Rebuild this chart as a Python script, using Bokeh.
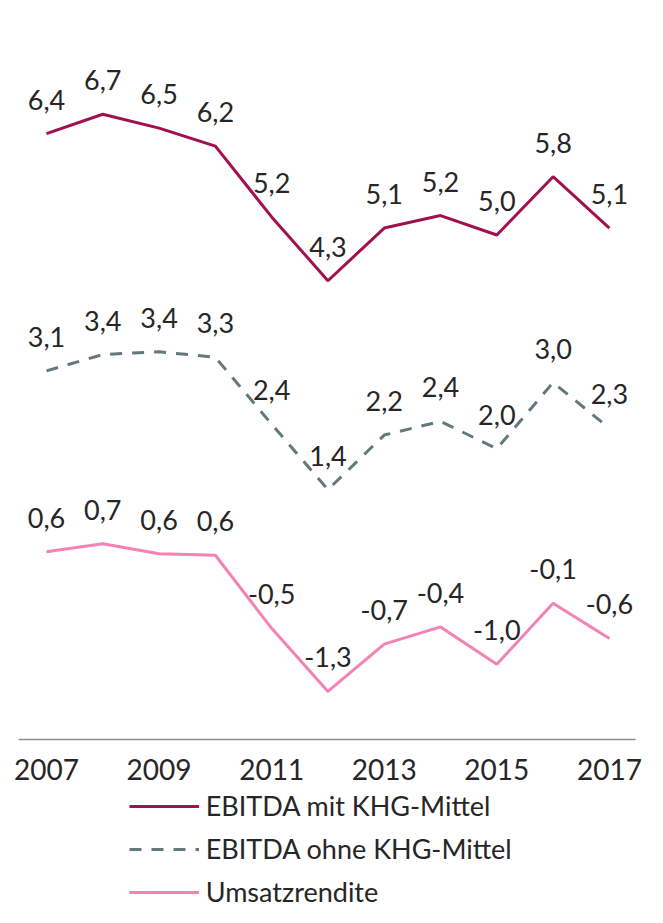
from bokeh.plotting import figure
from bokeh.models import Range1d, LinearAxis, FixedTicker, Legend, LegendItem, ColumnDataSource
from bokeh.core.properties import value
from bokeh.embed import file_html
from bokeh.resources import INLINE

# ---- data ----
years = [2007, 2008, 2009, 2010, 2011, 2012, 2013, 2014, 2015, 2016, 2017]
tick_years = [2007, 2009, 2011, 2013, 2015, 2017]
ebitda_mit = [6.42, 6.70, 6.50, 6.24, 5.22, 4.30, 5.06, 5.24, 4.96, 5.80, 5.06]
ebitda_ohne = [3.14, 3.38, 3.42, 3.34, 2.36, 1.40, 2.20, 2.40, 2.00, 2.97, 2.30]
umsatzrendite = [0.61, 0.72, 0.58, 0.56, -0.46, -1.34, -0.68, -0.44, -0.96, -0.11, -0.60]
series_names = ["EBITDA mit KHG-Mittel", "EBITDA ohne KHG-Mittel", "Umsatzrendite"]


def fmt(v):
    return f"{v:.1f}".replace(".", ",")


FONT = "Lato"
TXT = "#262626"
C_MIT = "#A1104F"
C_OHNE = "#65787A"
C_UMS = "#F482B4"

p = figure(width=647, height=907,
           x_range=Range1d(2006.183, 2017.677),
           y_range=Range1d(-4.7305, 8.3386),
           output_backend="svg", toolbar_location=None,
           x_axis_location=None, y_axis_location=None,
           min_border=0, min_border_left=0, min_border_right=0,
           min_border_top=0, min_border_bottom=0)
p.outline_line_color = None
p.background_fill_color = "white"
p.border_fill_color = "white"
p.grid.grid_line_color = None
p.grid.visible = False
p.extra_y_ranges = {"ohne": Range1d(-4.722, 8.567),
                    "ums": Range1d(-4.353, 8.297)}

r1 = p.line(years, ebitda_mit, line_color=C_MIT, line_width=3)
r2 = p.line(years, ebitda_ohne, line_color=C_OHNE, line_width=3,
            line_dash="12 10", y_range_name="ohne")
r3 = p.line(years, umsatzrendite, line_color=C_UMS, line_width=3,
            y_range_name="ums")

for vals, rname in [(ebitda_mit, "default"), (ebitda_ohne, "ohne"), (umsatzrendite, "ums")]:
    src = ColumnDataSource(dict(x=years, y=vals, t=[fmt(v) for v in vals]))
    p.text(x="x", y="y", text="t", source=src, y_range_name=rname,
           text_align="center", text_baseline="alphabetic", y_offset=-34,
           text_font=value(FONT), text_font_size="27px", text_color=TXT)

xaxis = LinearAxis(ticker=FixedTicker(ticks=tick_years),
                   fixed_location=-2.3055,
                   bounds=(2006.5, 2017.46))
xaxis.axis_line_color = "#8c8c8c"
xaxis.axis_line_width = 1.3
xaxis.major_tick_line_color = None
xaxis.minor_tick_line_color = None
xaxis.major_tick_out = 0
xaxis.major_tick_in = 0
xaxis.major_label_standoff = 20
xaxis.major_label_text_font = FONT
xaxis.major_label_text_font_size = "28px"
xaxis.major_label_text_color = TXT
p.add_layout(xaxis, "below")

legend = Legend(items=[LegendItem(label=series_names[0], renderers=[r1]),
                       LegendItem(label=series_names[1], renderers=[r2]),
                       LegendItem(label=series_names[2], renderers=[r3])],
                location=(128.7, -1))
legend.padding = 0
legend.margin = 0
legend.spacing = 10
legend.glyph_width = 70
legend.glyph_height = 30
legend.label_height = 30
legend.label_standoff = 7
legend.label_text_font = FONT
legend.label_text_font_size = "27px"
legend.label_text_color = TXT
legend.border_line_color = None
legend.background_fill_alpha = 0
p.add_layout(legend)

open("out.html", "w").write(file_html(p, INLINE))
